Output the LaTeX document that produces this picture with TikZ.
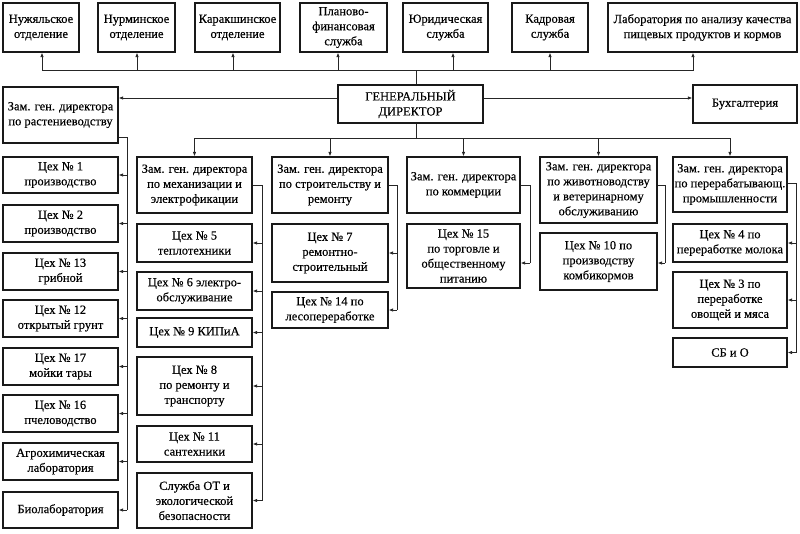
\documentclass[tikz,border=0pt]{standalone}
\usepackage{fontspec}
\setmainfont{Liberation Serif}[FakeBold=0.35]
\usetikzlibrary{arrows.meta}
\tikzset{
  box/.style={draw=black!90, line width=1.2pt, inner sep=0pt, align=center,
    font=\fontsize{12.5}{15}\selectfont},
  ln/.style={draw=black!85, line width=0.85pt},
  arr/.style={ln, -{Latex[length=4.5pt,width=3.5pt]}}
}
\newcommand\bx[6]{\node[box, minimum width={(#4-#2)*1pt}, minimum height={(#5-#3)*1pt}] (#1) at ({(#2+#4)/2},{(#3+#5)/2}) {#6};}
\begin{document}
\begin{tikzpicture}[x=1pt,y=-1pt]
\useasboundingbox (0,0) rectangle (800,533);
% top row
\bx{t1}{3}{3}{79}{52}{Нужяльское\\отделение}
\bx{t2}{98}{3}{175}{52}{Нурминское\\отделение}
\bx{t3}{195}{3}{280}{52}{Каракшинское\\отделение}
\bx{t4}{300}{3}{387}{52}{Планово-\\финансовая\\служба}
\bx{t5}{403}{3}{488}{52}{Юридическая\\служба}
\bx{t6}{512}{3}{588}{52}{Кадровая\\служба}
\bx{t7}{608}{3}{797}{52}{Лаборатория по анализу качества\\пищевых продуктов и кормов}
% director
\bx{gd}{338}{85}{483}{123}{ГЕНЕРАЛЬНЫЙ\\ДИРЕКТОР}
\bx{buh}{693}{85}{797}{123}{Бухгалтерия}
% column 1
\bx{zr}{3}{87}{118}{143}{Зам. ген. директора\\по растениеводству}
\bx{c1}{3}{157}{118}{193}{Цех № 1\\производство}
\bx{c2}{3}{205}{118}{242}{Цех № 2\\производство}
\bx{c13}{3}{253}{118}{290}{Цех № 13\\грибной}
\bx{c12}{3}{300}{118}{337}{Цех № 12\\открытый грунт}
\bx{c17}{3}{348}{118}{385}{Цех № 17\\мойки тары}
\bx{c16}{3}{395}{118}{432}{Цех № 16\\пчеловодство}
\bx{agro}{3}{443}{118}{480}{Агрохимическая\\лаборатория}
\bx{bio}{3}{492}{118}{528}{Биолаборатория}
% column 2
\bx{zm}{137}{157}{252}{213}{Зам. ген. директора\\по механизации и\\электрофикации}
\bx{c5}{137}{224}{252}{262}{Цех № 5\\теплотехники}
\bx{c6}{137}{272}{252}{310}{Цех № 6 электро-\\обслуживание}
\bx{c9}{137}{318}{252}{347}{Цех № 9 КИПиА}
\bx{c8}{137}{357}{252}{415}{Цех № 8\\по ремонту и\\транспорту}
\bx{c11}{137}{426}{252}{462}{Цех № 11\\сантехники}
\bx{ot}{137}{473}{252}{528}{Служба ОТ и\\экологической\\безопасности}
% column 3
\bx{zs}{272}{157}{388}{213}{Зам. ген. директора\\по строительству и\\ремонту}
\bx{c7}{272}{224}{388}{282}{Цех № 7\\ремонтно-\\строительный}
\bx{c14}{272}{292}{388}{328}{Цех № 14 по\\лесопереработке}
% column 4
\bx{zk}{407}{157}{520}{213}{Зам. ген. директора\\по коммерции}
\bx{c15}{407}{224}{520}{288}{Цех № 15\\по торговле и\\общественному\\питанию}
% column 5
\bx{zz}{540}{157}{657}{223}{Зам. ген. директора\\по животноводству\\и ветеринарному\\обслуживанию}
\bx{c10}{540}{233}{657}{290}{Цех № 10 по\\производству\\комбикормов}
% column 6
\bx{zp}{673}{157}{787}{212}{Зам. ген. директора\\по перерабатывающ.\\промышленности}
\bx{c4}{673}{224}{787}{262}{Цех № 4 по\\переработке молока}
\bx{c3}{673}{272}{787}{328}{Цех № 3 по\\переработке\\овощей и мяса}
\bx{sb}{673}{338}{787}{367}{СБ и О}

% top bus
\coordinate (tb) at (416,70);
\draw[ln] (tb |- gd.north) -- (tb);
\draw[arr] (tb) -| ([xshift=1pt]t1.south);
\draw[arr] (tb) -| ([xshift=0.5pt]t2.south);
\draw[arr] (tb) -| ([xshift=-4.5pt]t3.south);
\draw[arr] (tb) -| ([xshift=-5.5pt]t4.south);
\draw[arr] (tb) -| ([xshift=7.5pt]t5.south);
\draw[arr] (tb) -| (t6.south);
\draw[arr] (tb) -| ([xshift=-9.5pt]t7.south);
% side arrows
\draw[arr] ([yshift=6pt]gd.west) -- ([yshift=6pt]gd.west -| zr.east);
\draw[arr] ([yshift=6pt]gd.east) -- ([yshift=6pt]gd.east -| buh.west);
% middle bus
\coordinate (mb) at (416,138);
\draw[ln] (mb |- gd.south) -- (mb);
\foreach \n in {zm,zs,zk,zz,zp} \draw[arr] (mb) -| (\n.north);
% column 1 bus
\coordinate (b1) at (127,137);
\draw[ln] (zr.east |- b1) -- (b1) -- (b1 |- bio.east);
\foreach \n in {c1,c2,c13,c12,c17,c16,agro,bio} \draw[arr] (b1 |- \n.east) -- (\n.east);
% column 2 bus
\coordinate (b2) at (262,185);
\draw[ln] (zm.east |- b2) -- (b2) -- (b2 |- ot.east);
\foreach \n in {c5,c6,c9,c8,c11,ot} \draw[arr] (b2 |- \n.east) -- (\n.east);
% column 3 bus
\coordinate (b3) at (397,185);
\draw[ln] (zs.east |- b3) -- (b3) -- (b3 |- c14.east);
\foreach \n in {c7,c14} \draw[arr] (b3 |- \n.east) -- (\n.east);
% column 4 bus
\coordinate (b4) at (530,185);
\draw[ln] (zk.east |- b4) -- (b4) -- ([yshift=-7pt]b4 |- c15.east);
\draw[arr] ([yshift=-7pt]b4 |- c15.east) -- ([yshift=-7pt]c15.east);
% column 5 bus
\coordinate (b5) at (665,185);
\draw[ln] (zz.east |- b5) -- (b5) -- ([yshift=-1.5pt]b5 |- c10.east);
\draw[arr] ([yshift=-1.5pt]b5 |- c10.east) -- ([yshift=-1.5pt]c10.east);
% column 6 bus
\coordinate (b6) at (796,183);
\draw[ln] (zp.east |- b6) -- (b6) -- (b6 |- sb.east);
\foreach \n in {c4,c3,sb} \draw[arr] (b6 |- \n.east) -- (\n.east);
\end{tikzpicture}
\end{document}
